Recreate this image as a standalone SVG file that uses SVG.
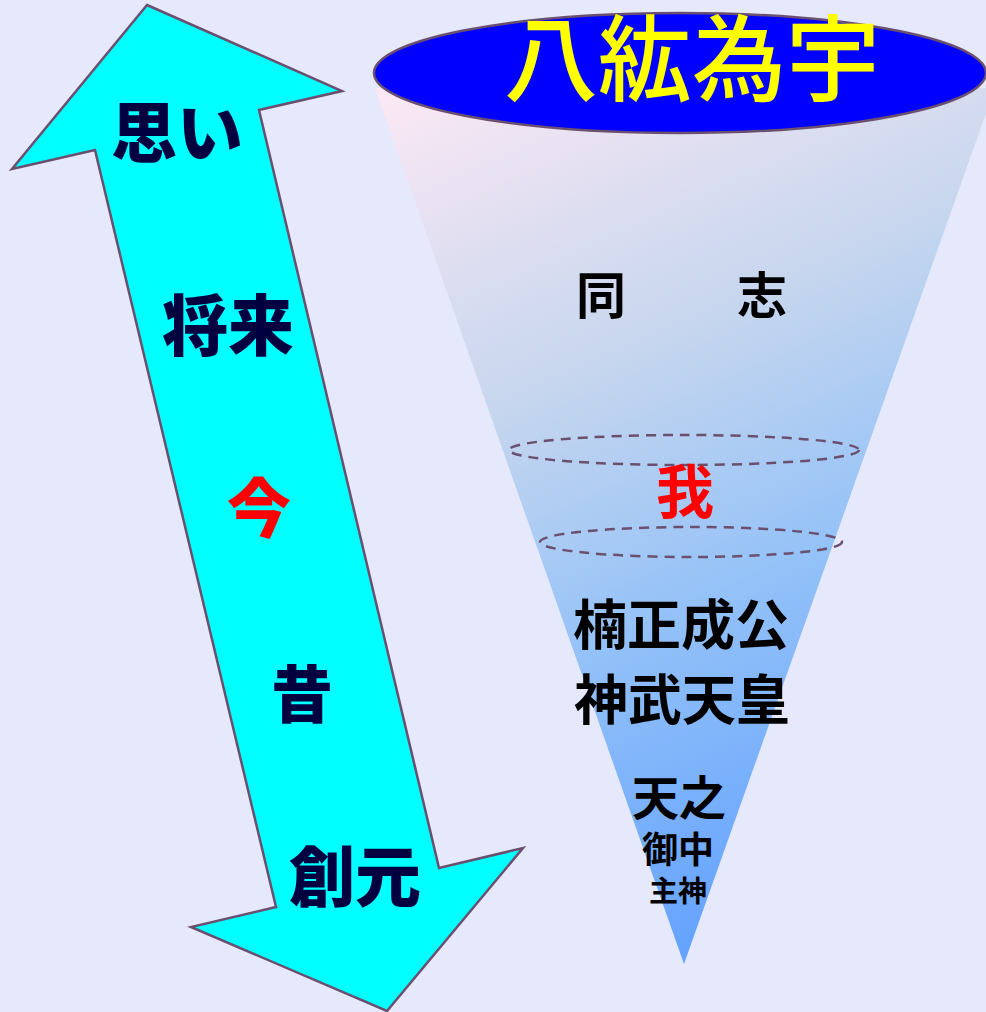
<svg xmlns="http://www.w3.org/2000/svg" width="986" height="1012" viewBox="0 0 986 1012">
<defs>
<linearGradient id="coneGrad" gradientUnits="userSpaceOnUse" x1="400" y1="90" x2="780" y2="960">
<stop offset="0" stop-color="#FBE8F4"/>
<stop offset="0.35" stop-color="#C6D6EE"/>
<stop offset="0.62" stop-color="#94C2F8"/>
<stop offset="1" stop-color="#5E9EFF"/>
</linearGradient>
<style>
.jp{font-family:"Noto Sans CJK JP","Noto Sans CJK SC",sans-serif;text-anchor:middle}
.heavy{font-weight:900;fill:#000040}
.blk{font-weight:bold;fill:#000000}
.outline{stroke:#6B4F6F;stroke-width:2.5}
.dash{fill:none;stroke:#6B4F6F;stroke-width:2.5;stroke-dasharray:10 7}
</style>
</defs>
<rect x="0" y="0" width="986" height="1012" fill="#E6E9FC"/>
<g id="arrow">
<polygon class="outline" fill="#00FFFF" points="147,5 342,91 259,110 439,868 523,848 387,1011 191,927 276,907 95,150 12,169"/>
<text class="jp heavy" x="177" y="157" font-size="66">思い</text>
<text class="jp heavy" x="228" y="350" font-size="66">将来</text>
<text class="jp" x="259" y="532" font-size="64" font-weight="900" fill="#FF0000">今</text>
<text class="jp heavy" x="302" y="718" font-size="62">昔</text>
<text class="jp heavy" x="355" y="901" font-size="66">創元</text>
</g>
<g id="cone">
<polygon fill="url(#coneGrad)" points="375,88 995,88 684,964"/>
</g>
<g id="top-ellipse">
<ellipse cx="680" cy="73" rx="306" ry="60" fill="#0000FF" class="outline"/>
<text class="jp" x="692" y="94" font-size="94" font-weight="500" fill="#FFFF00">八紘為宇</text>
</g>
<g id="connectors">
<ellipse class="dash" cx="684" cy="450" rx="175" ry="15"/>
<ellipse class="dash" cx="691" cy="542" rx="151" ry="15"/>
</g>
<g id="labels">
<text class="jp blk" x="601" y="314" font-size="50">同</text>
<text class="jp blk" x="762" y="314" font-size="50">志</text>
<text class="jp" x="685" y="513" font-size="58" font-weight="bold" fill="#FF0000">我</text>
<text class="jp blk" x="681" y="645" font-size="54">楠正成公</text>
<text class="jp blk" x="682" y="720" font-size="54">神武天皇</text>
<text class="jp blk" x="679" y="815" font-size="47">天之</text>
<text class="jp blk" x="678" y="863" font-size="36">御中</text>
<text class="jp blk" x="678" y="902" font-size="29">主神</text>
</g>
</svg>
